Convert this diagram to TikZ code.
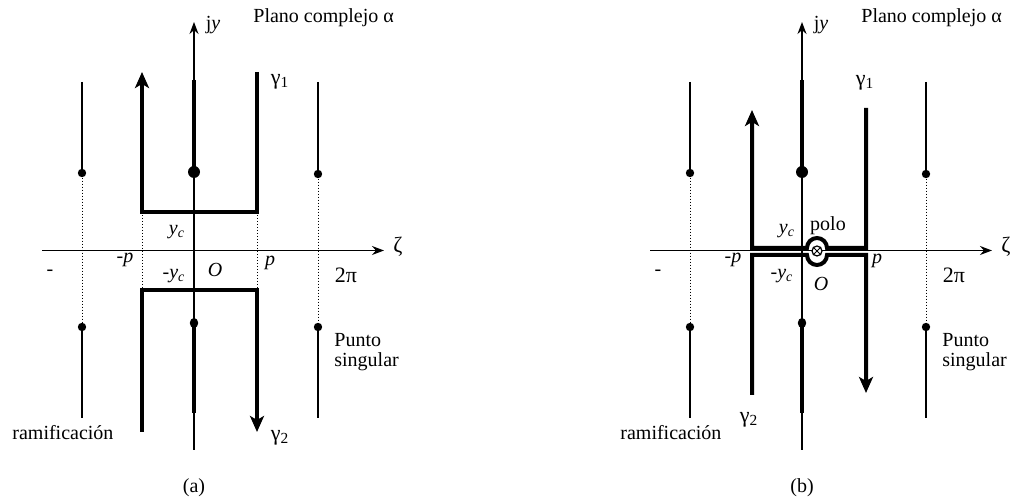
\documentclass[tikz,border=0pt]{standalone}
\usepackage{fontspec}
\setmainfont{Liberation Serif}
\usetikzlibrary{arrows.meta,shapes.geometric}
\begin{document}
\begin{tikzpicture}[x=0.5pt,y=-0.5pt,
  axis/.style={line width=0.7pt,-{Stealth[length=6pt,width=4.5pt]}},
  branch/.style={line width=1.3pt},
  cbranch/.style={line width=1.9pt},
  guide/.style={line width=0.5pt,densely dotted},
  contour/.style={line width=2pt},
  carrow/.style={contour,-{Stealth[length=8pt,width=7pt,inset=2pt]}},
  lbl/.style={inner sep=0pt,font=\fontsize{10pt}{12pt}\selectfont},
  glbl/.style={inner sep=0pt,font=\fontsize{11pt}{13pt}\selectfont},
  sdot/.style={circle,fill,inner sep=0pt,minimum size=4.2pt},
  bdot/.style={circle,fill,inner sep=0pt,minimum size=6pt},
  mdot/.style={ellipse,fill,inner sep=0pt,minimum width=4.2pt,minimum height=5pt},
]
\useasboundingbox (0,0) rectangle (1013,501);
\foreach \o/\n in {0/a,608/b}{
  % axes
  \coordinate (yb\n) at (194+\o,450);
  \coordinate (yt\n) at (194+\o,22);
  \coordinate (xl\n) at (42+\o,250.5);
  \coordinate (xr\n) at (384+\o,250.5);
  \draw[axis] (yb\n) -- (yt\n);
  \draw[axis] (xl\n) -- (xr\n);
  \node[glbl] (zeta\n) at (398+\o,247) {ζ};
  \node[lbl] (jy\n) at (213+\o,25) {j\textit{y}};
  \node[lbl,anchor=base west] (plano\n) at (253+\o,23) {Plano complejo α};
  % branch points
  \node[sdot] (lu\n) at (82+\o,173) {};
  \node[sdot] (ld\n) at (82+\o,327) {};
  \node[sdot] (ru\n) at (318+\o,174) {};
  \node[sdot] (rd\n) at (318+\o,327) {};
  \node[bdot] (cu\n) at (194+\o,172) {};
  \node[mdot] (cd\n) at (194+\o,323) {};
  \coordinate (lt\n) at (82+\o,82);
  \coordinate (lb\n) at (82+\o,418);
  \coordinate (rt\n) at (318+\o,82);
  \coordinate (rb\n) at (318+\o,418);
  \coordinate (ct\n) at (194+\o,80);
  \coordinate (cb\n) at (194+\o,413);
  \draw[branch] (lt\n) -- (lu\n.center);
  \draw[branch] (ld\n.center) -- (lb\n);
  \draw[branch] (rt\n) -- (ru\n.center);
  \draw[branch] (rd\n.center) -- (rb\n);
  \draw[cbranch] (ct\n) -- (cu\n.center);
  \draw[cbranch] (cd\n.center) -- (cb\n);
  \draw[guide] (lu\n) -- (ld\n);
  \draw[guide] (ru\n) -- (rd\n);
  % labels
  \node[lbl] (minus\n) at (50+\o,273) {-};
  \node[lbl] (mp\n) at (125+\o,260) {-\textit{p}};
  \node[glbl] (twopi\n) at (346+\o,275) {2π};
  \node[lbl,anchor=base west] (punto\n) at (334+\o,347) {Punto};
  \node[lbl,anchor=base west] (sing\n) at (334+\o,367) {singular};
  \node[lbl,anchor=base west] (ram\n) at (12+\o,440) {ramificación};
  \node[lbl] (cap\n) at (194+\o,488) {(\n)};
}
% ---------- panel (a) contours
\draw[guide] (142,212) -- (142,290);
\draw[guide] (257,212) -- (257,290);
\draw[carrow] (257,72) -- (257,212) -- (142,212) -- (142,72);
\draw[carrow] (142,432) -- (142,290) -- (257,290) -- (257,432);
\node[glbl] (g1a) at (280,82) {γ\textsubscript{1}};
\node[glbl] (g2a) at (280,438) {γ\textsubscript{2}};
\node[lbl] (yca) at (177,232) {\textit{y}\textsubscript{\textit{c}}};
\node[lbl] (myca) at (174,276) {-\textit{y}\textsubscript{\textit{c}}};
\node[lbl] (Oa) at (215,270) {\textit{O}};
\node[lbl] (pa) at (270,263) {\textit{p}};
% ---------- panel (b) contours
\node[circle,draw,fill=white,line width=0.6pt,inner sep=0pt,minimum size=5pt] (pole) at (817,251) {};
\draw[line width=0.5pt] (pole.north west) -- (pole.south east) (pole.north east) -- (pole.south west);
\draw[carrow] (866,108) -- (866,248) -- (827,248) arc[start angle=0,end angle=180,radius=5pt] -- (752,248) -- (752,110);
\draw[carrow] (752,395) -- (752,255) -- (807,255) arc[start angle=180,end angle=360,radius=5pt] -- (866,255) -- (866,393);
\node[glbl] (g1b) at (865,83) {γ\textsubscript{1}};
\node[glbl] (g2b) at (749,420) {γ\textsubscript{2}};
\node[lbl] (ycb) at (787,231) {\textit{y}\textsubscript{\textit{c}}};
\node[lbl] (polo) at (828,226) {polo};
\node[lbl] (mycb) at (782,276) {-\textit{y}\textsubscript{\textit{c}}};
\node[lbl] (Ob) at (821,284) {\textit{O}};
\node[lbl] (pb) at (877,261) {\textit{p}};
\end{tikzpicture}
\end{document}
